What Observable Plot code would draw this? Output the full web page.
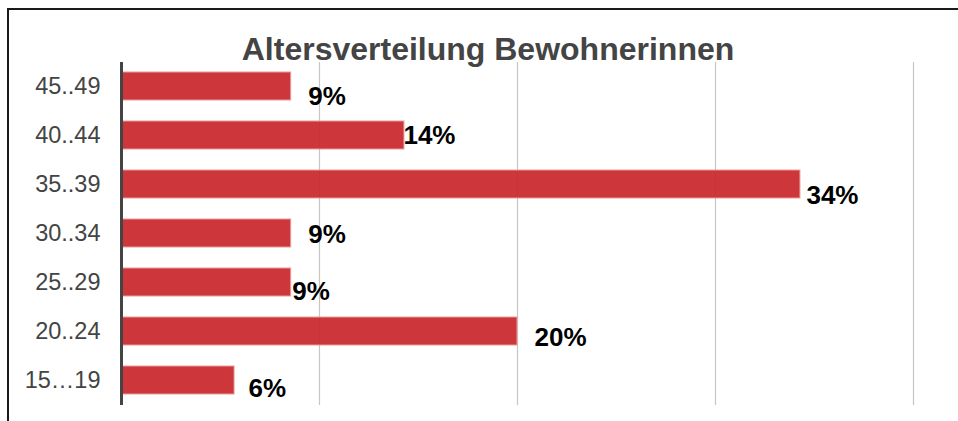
<!DOCTYPE html>
<html>
<head>
<meta charset="utf-8">
<script src="https://cdn.jsdelivr.net/npm/d3@7"></script>
<script src="https://cdn.jsdelivr.net/npm/@observablehq/plot@0.6"></script>
<style>
  html, body { margin: 0; padding: 0; background: #fff; }
  body { width: 958px; height: 421px; position: relative; overflow: hidden; font-family: "Liberation Sans", Arial, sans-serif; }
  #frame { position: absolute; left: 7px; top: 8px; width: 960px; height: 430px; border-top: 2px solid #1a1a1a; border-left: 2px solid #1a1a1a; box-sizing: border-box; }
  #chart { position: absolute; left: 0; top: 0; }
  #title { position: absolute; left: 0; top: 33px; width: 976px; text-align: center; font-size: 32px; line-height: 32px; font-weight: bold; color: #444; }
</style>
</head>
<body>
<div id="frame"></div>
<div id="chart"></div>
<div id="title">Altersverteilung Bewohnerinnen</div>
<script>
// Data
const ageGroups = ["45..49", "40..44", "35..39", "30..34", "25..29", "20..24", "15…19"];
const shares = [8.57, 14.29, 34.29, 8.57, 8.57, 20.0, 5.71];
const labels = ["9%", "14%", "34%", "9%", "9%", "20%", "6%"];
const gridTicks = [10, 20, 30, 40];

// label nudges (layout, px)
const labelDx = [17, -1, 6, 17, 1, 17, 14];
const labelDy = [10, 0, 11, 1, 9, 6, 8];

const rows = ageGroups.map((g, i) => ({ group: g, share: shares[i], label: labels[i], dx: labelDx[i], dy: labelDy[i] }));

const labelMarks = rows.map(r => Plot.text([r], {
  x: "share", y: "group", text: "label",
  textAnchor: "start", dx: r.dx, dy: r.dy,
  fontSize: 26, fontWeight: "bold", fill: "#000"
}));

const chart = Plot.plot({
  width: 958,
  height: 421,
  marginLeft: 121,
  marginRight: 45,
  marginTop: 62,
  marginBottom: 16,
  style: { fontFamily: "'Liberation Sans', Arial, sans-serif", background: "transparent", overflow: "visible" },
  x: { domain: [0, 40], axis: null },
  y: { domain: ageGroups, paddingInner: 0.42, paddingOuter: 0.21, label: null, tickSize: 0, tickPadding: 21 },
  marks: [
    Plot.ruleX(gridTicks, { stroke: "#c6c6c6", strokeWidth: 1.2 }),
    Plot.barX(rows, { x: "share", y: "group", fill: "#c9262a", fillOpacity: 0.92, stroke: "#e99a9b", strokeWidth: 1, insetLeft: 1.5 }),
    Plot.ruleX([0], { stroke: "#444", strokeWidth: 3 }),
    Plot.axisY({ tickSize: 0, tickPadding: 21, fontSize: 23.5, fill: "#444", label: null }),
    ...labelMarks
  ]
});
document.getElementById("chart").appendChild(chart);
</script>
</body>
</html>
